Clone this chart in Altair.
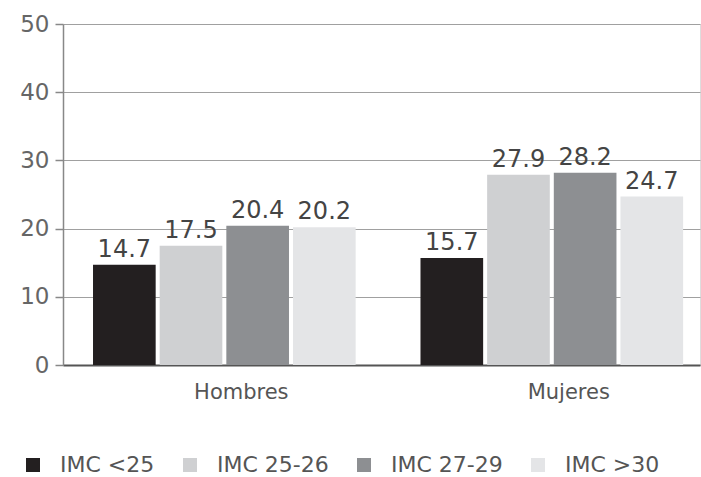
import altair as alt
import pandas as pd

# Prevalence by sex and BMI group
sexos = ["Hombres", "Mujeres"]
grupos = ["IMC <25", "IMC 25-26", "IMC 27-29", "IMC >30"]
hombres = [14.7, 17.5, 20.4, 20.2]
mujeres = [15.7, 27.9, 28.2, 24.7]
colores = ["#231f20", "#cfd0d2", "#8d8f92", "#e4e5e7"]
y_ticks = [0, 10, 20, 30, 40, 50]

rows = []
for sexo, valores in zip(sexos, [hombres, mujeres]):
    for grupo, v in zip(grupos, valores):
        rows.append({"sexo": sexo, "grupo": grupo, "valor": v})
df = pd.DataFrame(rows)

FONT = "DejaVu Sans"

x_enc = alt.X(
    "sexo:N",
    sort=sexos,
    scale=alt.Scale(paddingInner=0.198, paddingOuter=0.0716, align=0.64),
    axis=alt.Axis(
        title=None,
        labelAngle=0,
        ticks=False,
        labelPadding=16,
        labelOffset=17,
        labelFont=FONT,
        labelFontSize=21,
        labelColor="#555555",
        domainColor="#555555",
        domainWidth=2,
        grid=False,
    ),
)
xoff = alt.XOffset("grupo:N", sort=grupos, scale=alt.Scale(paddingInner=0.06, paddingOuter=0))
y_enc = alt.Y(
    "valor:Q",
    scale=alt.Scale(domain=[0, 50], nice=False),
    axis=alt.Axis(
        title=None,
        values=y_ticks,
        tickSize=8,
        tickColor="#888888",
        tickWidth=1.5,
        labelPadding=6,
        labelFont=FONT,
        labelFontSize=23,
        labelColor="#666666",
        domainColor="#888888",
        domainWidth=1.5,
        gridColor="#a0a0a0",
        gridWidth=1,
    ),
)
color_enc = alt.Color(
    "grupo:N",
    sort=grupos,
    scale=alt.Scale(domain=grupos, range=colores),
    legend=alt.Legend(
        title=None,
        orient="none",
        direction="horizontal",
        legendX=-41,
        legendY=430,
        symbolType="square",
        symbolSize=196,
        symbolStrokeWidth=0,
        labelFont=FONT,
        labelFontSize=22,
        labelColor="#555555",
        labelOffset=16,
        columnPadding=24,
    ),
)

bars = alt.Chart(df).mark_bar().encode(x=x_enc, xOffset=xoff, y=y_enc, color=color_enc)

labels = alt.Chart(df).mark_text(
    baseline="bottom", dy=-3, font=FONT, fontSize=24, color="#444444"
).encode(
    x=alt.X("sexo:N", sort=sexos),
    xOffset=alt.XOffset("grupo:N", sort=grupos),
    y="valor:Q",
    text=alt.Text("valor:Q", format=".1f"),
)

chart = (
    alt.layer(bars, labels)
    .properties(
        width=637,
        height=341,
        autosize=alt.AutoSizeParams(type="none"),
        padding={"left": 63, "top": 24, "right": 1, "bottom": 112},
    )
    .configure_view(stroke=None)
    .configure(background="white")
)

chart.save("out.html", embed_options={"renderer": "svg", "actions": False})
